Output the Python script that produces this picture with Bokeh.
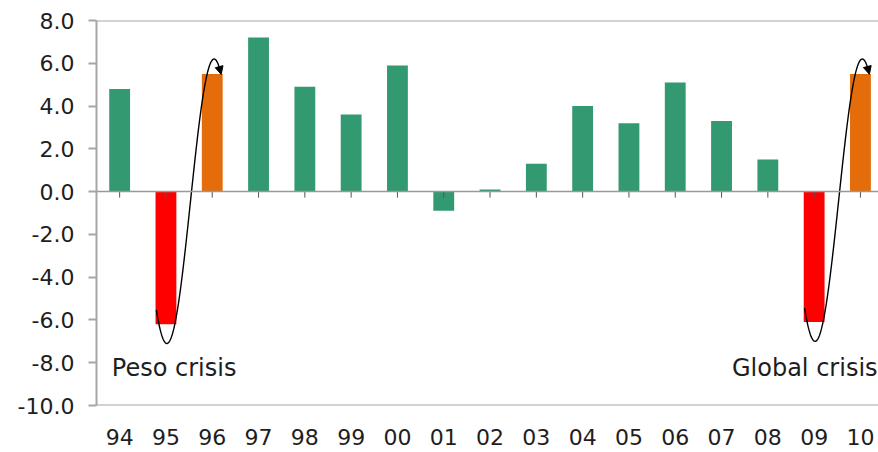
import numpy as np
from bokeh.plotting import figure
from bokeh.models import (Range1d, FixedTicker, Span, Arrow, NormalHead,
                          ColumnDataSource, PrintfTickFormatter)
from bokeh.core.properties import value
from bokeh.embed import file_html
from bokeh.resources import INLINE

# ---- data ----
years = ["94", "95", "96", "97", "98", "99", "00", "01", "02",
         "03", "04", "05", "06", "07", "08", "09", "10"]
growth = [4.8, -6.2, 5.5, 7.2, 4.9, 3.6, 5.9, -0.9, 0.1,
          1.3, 4.0, 3.2, 5.1, 3.3, 1.5, -6.1, 5.5]
crisis_years = ["95", "09"]
rebound_years = ["96", "10"]
crisis_names = ["Peso crisis", "Global crisis"]
y_ticks = [8, 6, 4, 2, 0, -2, -4, -6, -8, -10]

# ---- styles ----
GREEN = "#339970"
RED = "#FF0000"
ORANGE = "#E46C0A"
GRAY = "#A6A6A6"
TXT = "#1E1E1E"
FONT = "DejaVu Sans"
X_END = 16.39

idx = list(range(len(years)))
colors = [RED if y in crisis_years else ORANGE if y in rebound_years else GREEN
          for y in years]

p = figure(width=878, height=452, x_range=Range1d(-0.5, X_END),
           y_range=Range1d(-10, 8), output_backend="svg",
           toolbar_location=None, min_border_left=96, min_border_top=20,
           min_border_bottom=47, min_border_right=0)
p.outline_line_color = None
p.grid.grid_line_color = None
p.background_fill_color = "white"
p.border_fill_color = "white"

# bars
src = ColumnDataSource(dict(x=idx, top=growth, color=colors))
p.vbar(x="x", top="top", bottom=0, width=0.45, fill_color="color",
       line_color=None, source=src)

# frame lines and zero line
for yv in (y_ticks[0], y_ticks[-1]):
    p.add_layout(Span(location=yv, dimension="width", line_color=GRAY,
                      line_width=2))
p.add_layout(Span(location=0, dimension="width", line_color="#999999",
                  line_width=1.5))
# small ticks on the zero line
p.segment(x0=idx, y0=[0] * len(idx), x1=idx, y1=[-0.28] * len(idx),
          line_color="#555555", line_width=1)

# crisis curves
for cy, ry in zip(crisis_years, rebound_years):
    ic, ir = years.index(cy), years.index(ry)
    vc, vr = growth[ic], growth[ir]
    y_bot, y_top = vc - 0.9, vr + 0.7
    yc, A = (y_bot + y_top) / 2, (y_top - y_bot) / 2
    th = np.linspace(-0.7, np.pi + 0.47, 120)
    k = (ir - ic + 0.02) / np.pi
    xs = ic + 0.02 + k * th
    ys = yc - A * np.cos(th)
    p.line(xs[:-3], ys[:-3], line_color="black", line_width=1.4)
    p.add_layout(Arrow(end=NormalHead(size=8, fill_color="black",
                                      line_color="black"),
                       x_start=xs[-4], y_start=ys[-4], x_end=xs[-1],
                       y_end=ys[-1], line_color="black", line_width=1.4))

# crisis labels
lab = ColumnDataSource(dict(
    x=[years.index(crisis_years[0]) - 1.17, X_END - 0.02],
    y=[-8.25, -8.25],
    text=crisis_names,
    align=["left", "right"]))
p.text(x="x", y="y", text="text", text_align="align", text_baseline="middle",
       text_font=value(FONT), text_font_size=value("24px"),
       text_color=TXT, source=lab)

# axes
p.xaxis.ticker = FixedTicker(ticks=idx)
p.xaxis.major_label_overrides = {i: y for i, y in zip(idx, years)}
p.xaxis.axis_line_color = None
p.xaxis.major_tick_line_color = None
p.xaxis.minor_tick_line_color = None
p.xaxis.major_label_text_font = FONT
p.xaxis.major_label_text_font_size = "22px"
p.xaxis.major_label_text_color = TXT
p.xaxis.major_label_standoff = 17

p.yaxis.ticker = FixedTicker(ticks=y_ticks)
p.yaxis.formatter = PrintfTickFormatter(format="%.1f")
p.yaxis.axis_line_color = GRAY
p.yaxis.axis_line_width = 2
p.yaxis.major_tick_line_color = GRAY
p.yaxis.major_tick_line_width = 2
p.yaxis.major_tick_out = 8
p.yaxis.major_tick_in = 0
p.yaxis.minor_tick_line_color = None
p.yaxis.major_label_text_font = FONT
p.yaxis.major_label_text_font_size = "22px"
p.yaxis.major_label_text_color = TXT
p.yaxis.major_label_standoff = 14

open("out.html", "w").write(file_html(p, INLINE))
